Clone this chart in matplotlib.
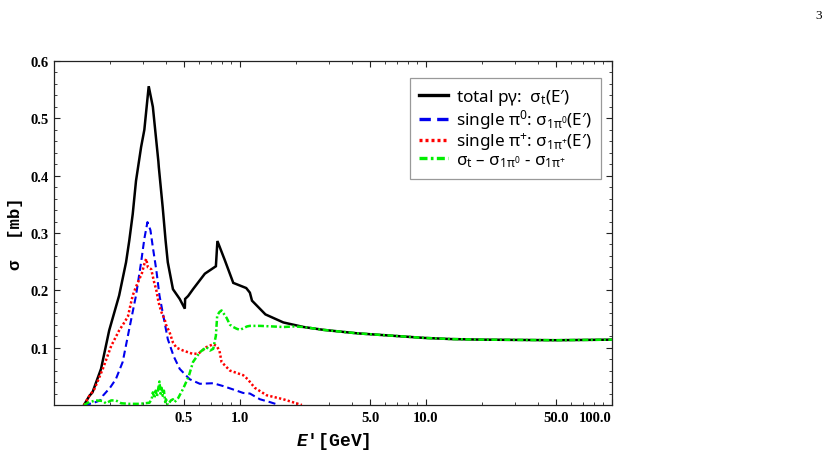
import matplotlib
matplotlib.use("Agg")
import matplotlib.pyplot as plt
from matplotlib.ticker import FixedLocator, NullFormatter, FixedFormatter

# ---------------- data ----------------
E_tot = [0.145, 0.155, 0.161, 0.179, 0.198, 0.224, 0.244, 0.254, 0.265, 0.276,
         0.294, 0.306, 0.323, 0.340, 0.364, 0.366, 0.384, 0.398, 0.409, 0.436,
         0.474, 0.505, 0.507, 0.526, 0.559, 0.647, 0.742, 0.756, 0.830, 0.920,
         1.08, 1.13, 1.16, 1.37, 1.71, 2.20, 2.82, 3.47, 4.27, 6.47, 9.8, 13.7,
         20.0, 50.0, 100.0]
s_tot = [0.0, 0.016, 0.022, 0.063, 0.130, 0.191, 0.249, 0.287, 0.333, 0.391,
         0.450, 0.480, 0.556, 0.520, 0.425, 0.415, 0.345, 0.287, 0.249, 0.202,
         0.185, 0.168, 0.185, 0.190, 0.202, 0.229, 0.242, 0.286, 0.252, 0.213,
         0.204, 0.196, 0.182, 0.158, 0.144, 0.136, 0.131, 0.128, 0.125, 0.121,
         0.117, 0.115, 0.114, 0.113, 0.114]

E_pi0 = [0.145, 0.161, 0.177, 0.183, 0.200, 0.215, 0.234, 0.254, 0.276, 0.294,
         0.306, 0.318, 0.330, 0.340, 0.355, 0.369, 0.390, 0.409, 0.440, 0.474,
         0.536, 0.608, 0.718, 0.812, 0.96, 1.04, 1.13, 1.28, 1.45, 1.62]
s_pi0 = [0.0, 0.003, 0.008, 0.016, 0.030, 0.045, 0.075, 0.133, 0.191, 0.249,
         0.290, 0.319, 0.305, 0.275, 0.235, 0.191, 0.150, 0.115, 0.085, 0.063,
         0.045, 0.037, 0.038, 0.033, 0.025, 0.021, 0.020, 0.010, 0.005, 0.0]

E_pip = [0.145, 0.155, 0.165, 0.183, 0.203, 0.224, 0.240, 0.250, 0.258, 0.265,
         0.275, 0.288, 0.297, 0.306, 0.313, 0.320, 0.333, 0.345, 0.355, 0.362,
         0.369, 0.380, 0.393, 0.400, 0.418, 0.436, 0.455, 0.494, 0.559, 0.600,
         0.660, 0.718, 0.748, 0.775, 0.796, 0.883, 1.04, 1.10, 1.20, 1.39, 1.71,
         2.15]
s_pip = [0.0, 0.016, 0.028, 0.063, 0.103, 0.130, 0.145, 0.155, 0.175, 0.191,
         0.205, 0.220, 0.230, 0.246, 0.255, 0.240, 0.237, 0.215, 0.200, 0.185,
         0.173, 0.160, 0.150, 0.140, 0.127, 0.109, 0.100, 0.095, 0.089, 0.090,
         0.101, 0.106, 0.103, 0.095, 0.075, 0.060, 0.052, 0.045, 0.030, 0.017,
         0.010, 0.0]

E_multi = [0.145, 0.155, 0.168, 0.183, 0.190, 0.203, 0.215, 0.230, 0.254, 0.290,
           0.326, 0.335, 0.340, 0.347, 0.352, 0.358, 0.364, 0.369, 0.374, 0.379,
           0.384, 0.390, 0.396, 0.400, 0.409, 0.425, 0.436, 0.445, 0.465, 0.494,
           0.530, 0.559, 0.608, 0.660, 0.690, 0.718, 0.742, 0.754, 0.775, 0.796,
           0.847, 0.883, 0.920, 0.96, 1.00, 1.09, 1.13, 1.28, 1.50, 1.71, 1.94,
           2.20, 2.82, 3.47, 4.27, 6.47, 9.8, 13.7, 20.0, 50.0, 100.0]
s_multi = [0.0, 0.005, 0.008, 0.007, 0.003, 0.008, 0.008, 0.003, 0.002, 0.002,
           0.004, 0.010, 0.022, 0.012, 0.025, 0.015, 0.030, 0.041, 0.020, 0.030,
           0.016, 0.025, 0.005, 0.010, 0.0, 0.008, 0.010, 0.005, 0.012, 0.028,
           0.050, 0.075, 0.092, 0.101, 0.095, 0.098, 0.121, 0.156, 0.162, 0.165,
           0.152, 0.140, 0.136, 0.133, 0.131, 0.137, 0.138, 0.138, 0.137, 0.136,
           0.137, 0.136, 0.131, 0.128, 0.125, 0.121, 0.117, 0.115, 0.114, 0.113,
           0.114]

x_major = [0.5, 1.0, 5.0, 10.0, 50.0, 100.0]
x_major_labels = ["0.5", "1.0", "5.0", "10.0", "50.0", "100.0"]
y_major = [0.1, 0.2, 0.3, 0.4, 0.5, 0.6]
y_major_labels = ["0.1", "0.2", "0.3", "0.4", "0.5", "0.6"]

labels = ["total p\u03b3:  \u03c3$_{t}$(E\u2032)",
          "single \u03c0$^{0}$: \u03c3$_{1\u03c0^{0}}$(E\u2032)",
          "single \u03c0$^{+}$: \u03c3$_{1\u03c0^{+}}$(E\u2032)",
          "\u03c3$_{t}$ \u2013 \u03c3$_{1\u03c0^{0}}$ - \u03c3$_{1\u03c0^{+}}$"]

# ---------------- figure ----------------
plt.rcParams['mathtext.default'] = 'regular'
plt.rcParams['mathtext.fontset'] = 'custom'
plt.rcParams['mathtext.it'] = 'Liberation Mono:italic:bold'
plt.rcParams['mathtext.rm'] = 'Noto Sans'
plt.rcParams['font.family'] = ['Noto Sans', 'DejaVu Sans']

fig = plt.figure(figsize=(8.34, 4.56), dpi=100)
ax = fig.add_axes([54/834, 50/456, 558/834, 344/456])

ax.plot(E_tot, s_tot, color='black', lw=1.8, solid_joinstyle='miter', label=labels[0], zorder=3)
ax.plot(E_pi0, s_pi0, color='#0000ee', lw=1.5, linestyle=(0, (3.4, 1.9)), label=labels[1], zorder=4)
ax.plot(E_pip, s_pip, color='#ff0000', lw=1.8, linestyle=(0, (0.9, 0.9)), label=labels[2], zorder=5)
ax.plot(E_multi, s_multi, color='#00ee00', lw=1.8, linestyle=(0, (2.4, 1.0, 0.8, 1.0)), label=labels[3], zorder=6)

ax.set_xscale('log')
ax.set_xlim(0.1, 100.0)
ax.set_ylim(0.0, 0.6)

ax.xaxis.set_major_locator(FixedLocator(x_major))
ax.xaxis.set_major_formatter(FixedFormatter(x_major_labels))
minor_x = [m * d for d in (0.1, 1.0, 10.0) for m in range(2, 10)]
minor_x = [v for v in minor_x if v not in x_major]
ax.xaxis.set_minor_locator(FixedLocator(minor_x))
ax.xaxis.set_minor_formatter(NullFormatter())

ax.yaxis.set_major_locator(FixedLocator(y_major))
ax.yaxis.set_major_formatter(FixedFormatter(y_major_labels))
minor_y = [round(0.02 * i, 2) for i in range(1, 30) if i % 5 != 0]
ax.yaxis.set_minor_locator(FixedLocator(minor_y))

for sp in ax.spines.values():
    sp.set_color('#222222')
    sp.set_linewidth(0.9)

ax.tick_params(which='both', direction='in', top=True, right=True, color='#222222')
ax.tick_params(which='major', length=4.5, width=0.8, pad=4)
ax.tick_params(which='minor', length=2.5, width=0.6)

for lab in ax.get_xticklabels() + ax.get_yticklabels():
    lab.set_fontfamily('Liberation Serif')
    lab.set_fontweight('bold')
    lab.set_fontsize(10.5)
ax.get_xticklabels()[-1].set_horizontalalignment('right')

ax.set_ylabel("\u03c3  [mb]", family=['Liberation Mono', 'DejaVu Sans'], fontweight='bold',
              fontsize=12.5, labelpad=5)
ax.set_xlabel("$\\it{E}$\u2032[GeV]", family=['Liberation Mono', 'DejaVu Sans'],
              fontweight='bold', fontsize=13, labelpad=5)

leg = ax.legend(loc='upper left', bbox_to_anchor=(0.638, 0.951), borderaxespad=0,
                fancybox=False, framealpha=1, edgecolor='#999999', fontsize=12.3,
                handlelength=1.7, handletextpad=0.45, labelspacing=0.0,
                borderpad=0.55)
leg.get_frame().set_linewidth(0.9)
for h in leg.get_lines():
    h.set_linewidth(2.4)

fig.text(819/834, 1 - 16/456, "3", family='Liberation Serif', fontsize=9.5,
         ha='center', va='center')

fig.savefig("out.png", dpi=100)
